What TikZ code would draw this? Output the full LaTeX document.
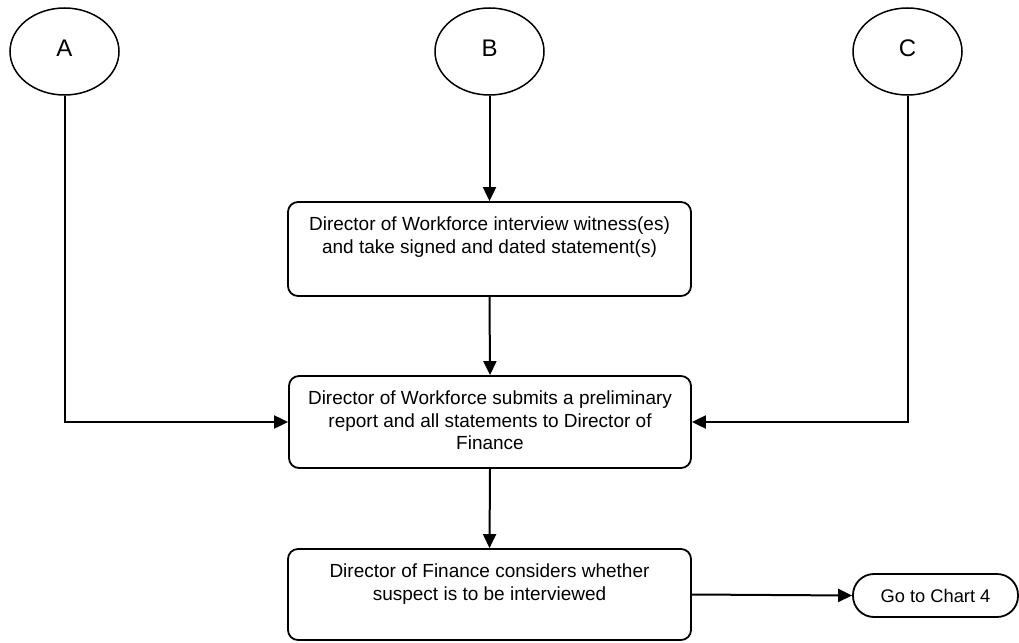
\documentclass[tikz,border=0pt]{standalone}
\usepackage{fontspec}
\setmainfont{Liberation Sans}
\usetikzlibrary{shapes.geometric,arrows.meta}
\tikzset{
  conn/.style={line width=2pt,-{Triangle[length=14pt,width=13pt]}},
  oval/.style={draw,line width=1.5pt,ellipse,minimum width=109pt,minimum height=87pt,inner sep=0pt,font=\fontsize{24}{26}\selectfont},
  procbox/.style={draw,line width=1.8pt,rounded corners=10pt,inner sep=0pt,font=\fontsize{19}{22.5}\selectfont},
  term/.style={draw,line width=1.8pt,rounded corners=21pt,minimum width=165pt,minimum height=43pt,inner sep=0pt,font=\fontsize{18.3}{20}\selectfont}
}
\newcommand{\boxtext}[3]{\parbox[c][#2][t]{#1}{\centering\vspace{15pt}#3\par}}
\begin{document}
\begin{tikzpicture}[x=1pt,y=-1pt]
\useasboundingbox (0,0) rectangle (1019,642);
\node[oval] (A) at (64.5,51.5) {\raisebox{7pt}{A}};
\node[oval] (B) at (489.5,51.5) {\raisebox{7pt}{B}};
\node[oval] (C) at (907.5,51.5) {\raisebox{7pt}{C}};
\node[procbox] (s1) at (489.5,249) {\boxtext{403pt}{94pt}{Director of Workforce interview witness(es)\\and take signed and dated statement(s)}};
\node[procbox] (s2) at (490,422) {\boxtext{402pt}{92pt}{Director of Workforce submits a preliminary\\report and all statements to Director of\\Finance}};
\node[procbox] (s3) at (489.5,594.5) {\boxtext{403pt}{91pt}{Director of Finance considers whether\\suspect is to be interviewed}};
\node[term] (g) at (935.5,595.5) {\raisebox{-2pt}{Go to Chart 4}};
\draw[conn] (B.south) -- (s1.north);
\draw[conn] (s1.south) -- (s2.north);
\draw[conn] (s2.south) -- (s3.north);
\draw[conn] (A.south) |- (s2.west);
\draw[conn] (C.south) |- (s2.east);
\draw[conn] (s3.east) -- (g.west);
\end{tikzpicture}
\end{document}
